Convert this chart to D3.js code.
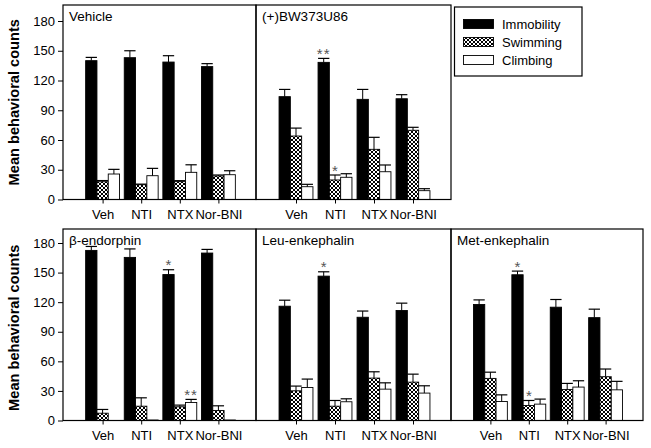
<!DOCTYPE html>
<html><head><meta charset="utf-8">
<script src="https://cdn.jsdelivr.net/npm/d3@7"></script>
<style>body{margin:0;background:#fff}svg{display:block}</style>
</head><body><svg id="c" width="651" height="448"></svg>
<script>
const categories = ["Veh", "NTI", "NTX", "Nor-BNI"];
const series = ["Immobility", "Swimming", "Climbing"];
const yTicks = [0, 30, 60, 90, 120, 150, 180];
const panelNames = ["Vehicle", "(+)BW373U86", "\u03B2-endorphin", "Leu-enkephalin", "Met-enkephalin"];
const yTitle = "Mean behavioral counts";

// means per panel, per category
const immobility = [[140, 143, 138.6, 134], [103.7, 138.3, 101, 101.6], [172.5, 165.4, 148, 169.8], [115.9, 146.4, 104.7, 111.5], [117.6, 147.8, 114.9, 104.3]];
const swimming   = [[17.9, 14.9, 18, 23.7], [64, 19.7, 50.6, 69.8], [7.4, 14.5, 13.9, 10.2], [30.1, 14.5, 43, 38.9], [42.7, 15.2, 31.5, 44.4]];
const climbing   = [[25.7, 24, 27.4, 25], [12.9, 22.4, 28, 8.9], [0, 0.5, 18.3, 0.5], [33.5, 19, 31.8, 27.8], [19.3, 16.6, 33.9, 31.1]];
// SEM
const immobilityErr = [[3.3, 7, 6.4, 3], [7.3, 4, 10, 4.1], [4, 8.6, 4.9, 3.7], [6.1, 4.4, 6.3, 7.5], [4.7, 3.7, 7.8, 8.6]];
const swimmingErr   = [[1.2, 0.6, 1, 1], [8, 5, 12.1, 3], [3.8, 8.5, 1.7, 4.7], [4.8, 5.8, 6.4, 8.1], [6.3, 5.1, 6.1, 7.8]];
const climbingErr   = [[4.7, 7.4, 7.6, 4], [2.4, 3.6, 6.8, 2], [0, 0, 3.1, 0], [8.5, 3, 6.4, 7.4], [6.7, 5.1, 6.4, 8.6]];
// significance marks
const sigPanel  = [1, 1, 2, 2, 3, 4, 4];
const sigCat    = ["NTI", "NTI", "NTX", "NTX", "NTI", "NTI", "NTI"];
const sigSeries = [0, 1, 0, 2, 0, 0, 1];
const sigText   = ["**", "*", "*", "**", "*", "*", "*"];

const means = [immobility, swimming, climbing];
const errs = [immobilityErr, swimmingErr, climbingErr];

const svg = d3.select("#c");
const font = "Liberation Sans, Arial, Helvetica, sans-serif";

const defs = svg.append("defs");
const pat = defs.append("pattern").attr("id", "hatch").attr("patternUnits", "userSpaceOnUse")
  .attr("width", 4).attr("height", 4);
pat.append("rect").attr("width", 4).attr("height", 4).attr("fill", "#fff");
pat.append("path").attr("d", "M0,0L4,4M4,0L0,4M-1,1L1,-1M3,5L5,3M-1,3L1,5M3,-1L5,1")
  .attr("stroke", "#000").attr("stroke-width", 1);
const fills = ["#000", "url(#hatch)", "#fff"];

const colX = [63, 256, 451, 643];
const rows = [{top: 5, bottom: 199.5, y180: 21}, {top: 229, bottom: 420.5, y180: 243}];
const panelCol = [0, 1, 0, 1, 2];
const panelRow = [0, 0, 1, 1, 1];

const bw = 11.3;
const sx = d3.scaleBand().domain(series).range([-1.5 * bw, 1.5 * bw]).padding(0);

panelNames.forEach((name, p) => {
  const c = panelCol[p], r = rows[panelRow[p]];
  const x0 = colX[c], x1 = colX[c + 1];
  const y = d3.scaleLinear().domain([0, 180]).range([r.bottom, r.y180]);
  const x = d3.scalePoint().domain(categories).range([x0 + 1, x1 + 1]).padding(1);
  const g = svg.append("g");

  // bars
  series.forEach((s, si) => {
    g.selectAll(null).data(categories).enter().append("rect")
      .attr("x", d => x(d) + sx(s))
      .attr("width", sx.bandwidth())
      .attr("y", (d, i) => y(means[si][p][i]))
      .attr("height", (d, i) => y(0) - y(means[si][p][i]))
      .attr("fill", fills[si])
      .attr("stroke", "#000").attr("stroke-width", 0.9);
    // error bars (upper)
    categories.forEach((d, i) => {
      const e = errs[si][p][i];
      if (e <= 0) return;
      const cx = x(d) + sx(s) + sx.bandwidth() / 2;
      const yt = y(means[si][p][i] + e), yb = y(means[si][p][i]);
      g.append("line").attr("x1", cx).attr("x2", cx).attr("y1", yb).attr("y2", yt)
        .attr("stroke", "#000").attr("stroke-width", 1);
      g.append("line").attr("x1", cx - sx.bandwidth() / 2).attr("x2", cx + sx.bandwidth() / 2)
        .attr("y1", yt).attr("y2", yt).attr("stroke", "#000").attr("stroke-width", 1.2);
    });
  });

  // significance
  sigPanel.forEach((sp, k) => {
    if (sp !== p) return;
    const si = sigSeries[k], i = categories.indexOf(sigCat[k]);
    const cx = x(sigCat[k]) + sx(series[si]) + sx.bandwidth() / 2;
    const yt = y(means[si][p][i] + errs[si][p][i]);
    g.append("text").attr("x", cx).attr("y", yt + 0.5).attr("text-anchor", "middle")
      .attr("font-family", font).attr("font-size", 15).attr("fill", "#555")
      .attr("letter-spacing", sigText[k].length > 1 ? 1 : 0)
      .text(sigText[k]);
  });

  // frame
  g.append("rect").attr("x", x0).attr("y", r.top).attr("width", x1 - x0).attr("height", r.bottom - r.top)
    .attr("fill", "none").attr("stroke", "#000").attr("stroke-width", 1.2);

  // x axis
  const xa = g.append("g").attr("transform", `translate(0,${r.bottom})`)
    .call(d3.axisBottom(x).tickSize(4).tickPadding(6));
  xa.select(".domain").remove();
  xa.selectAll("line").attr("stroke", "#000");
  xa.selectAll("text").attr("font-family", font).attr("font-size", 13).attr("fill", "#000");

  // y axis on left column
  if (c === 0) {
    const ya = g.append("g").attr("transform", `translate(${x0},0)`)
      .call(d3.axisLeft(y).tickValues(yTicks).tickSize(5).tickPadding(3));
    ya.select(".domain").remove();
    ya.selectAll("line").attr("stroke", "#000");
    ya.selectAll("text").attr("font-family", font).attr("font-size", 13).attr("fill", "#000");
    svg.append("text").attr("transform", `translate(19,${(r.top + r.bottom) / 2 + (panelRow[p] ? 3 : 0)}) rotate(-90)`)
      .attr("text-anchor", "middle").attr("font-family", font).attr("font-weight", "bold")
      .attr("font-size", 14.6).text(yTitle);
  }

  // panel title
  g.append("text").attr("x", x0 + 6).attr("y", r.top + 16)
    .attr("font-family", font).attr("font-size", 13.5).attr("fill", "#000").text(name);
});

// legend
const lg = svg.append("g");
lg.append("rect").attr("x", 454.5).attr("y", 7).attr("width", 127.5).attr("height", 69)
  .attr("fill", "#fff").attr("stroke", "#000").attr("stroke-width", 1.2);
series.forEach((s, i) => {
  lg.append("rect").attr("x", 463.5).attr("y", 19.5 + i * 18).attr("width", 30).attr("height", 9)
    .attr("fill", fills[i]).attr("stroke", "#000").attr("stroke-width", 0.9);
  lg.append("text").attr("x", 502).attr("y", 29 + i * 18).attr("font-family", font)
    .attr("font-size", 13).attr("fill", "#000").text(s);
});
</script>
</body></html>
